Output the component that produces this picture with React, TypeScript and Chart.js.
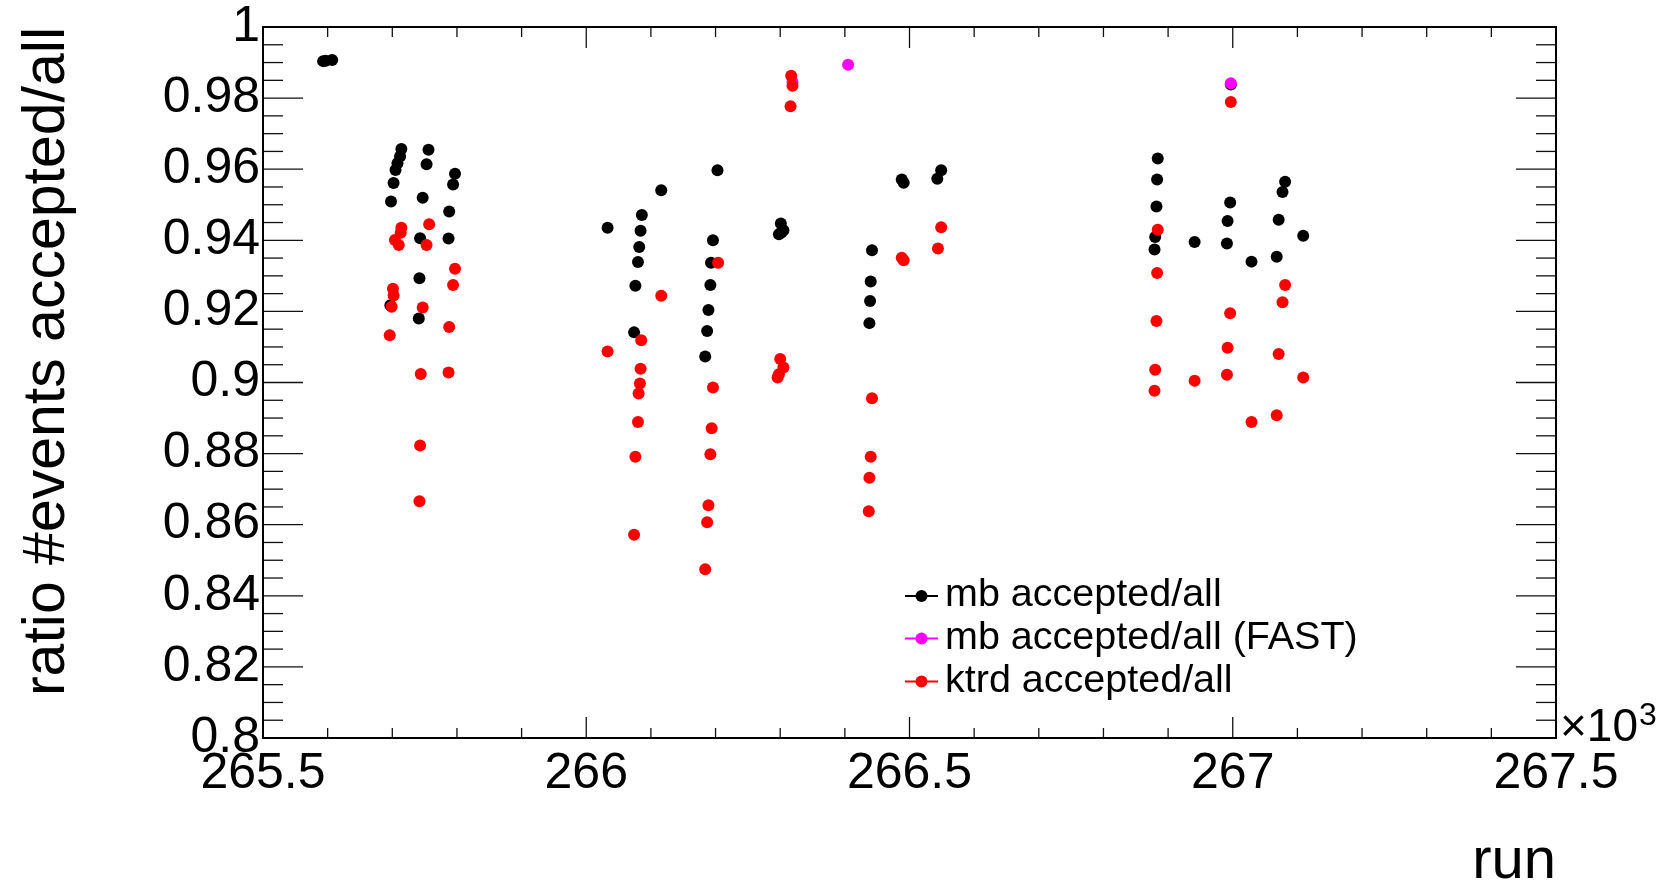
import React, { useEffect, useRef } from "react";
import { Chart, registerables } from "chart.js";

Chart.register(...registerables);

// ---- data (run number, ratio of accepted events) ----
const mbRuns = [
  265593, 265597, 265607,
  265714, 265712, 265708, 265705, 265702, 265698, 265697,
  265756, 265753, 265747, 265743, 265742, 265741,
  265797, 265794, 265788, 265787,
  266033,
  266086, 266084, 266082, 266080, 266076, 266074,
  266116,
  266203, 266196, 266193, 266192, 266189, 266187, 266184,
  266301, 266305, 266298, 266302,
  266442, 266440, 266439, 266438,
  266488, 266491,
  266549, 266543,
  266884, 266883, 266882, 266880, 266879,
  266941,
  266997, 266996, 266992, 266991,
  267029,
  267081, 267077, 267071, 267068,
  267109,
];
const mbRatio = [
  0.9904, 0.9905, 0.9907,
  0.9657, 0.9636, 0.9617, 0.9598, 0.9561, 0.9509, 0.9217,
  0.9655, 0.9614, 0.952, 0.9406, 0.9293, 0.918,
  0.9587, 0.9557, 0.9481, 0.9405,
  0.9435,
  0.9471, 0.9427, 0.9381, 0.9339, 0.9272, 0.9141,
  0.9541,
  0.9597, 0.94, 0.9337, 0.9274, 0.9204, 0.9145, 0.9073,
  0.9447, 0.9428, 0.9417, 0.9422,
  0.9372, 0.9284, 0.9229, 0.9167,
  0.9571, 0.9562,
  0.9597, 0.9573,
  0.963, 0.9571, 0.9495, 0.9409, 0.9374,
  0.9395,
  0.9838, 0.9506, 0.9454, 0.9391,
  0.934,
  0.9565, 0.9536, 0.9458, 0.9354,
  0.9413,
];

const fastRuns = [266319, 266405, 266997];
const fastRatio = [0.9845, 0.9894, 0.9842];

const ktrdRuns = [
  265714, 265713, 265704, 265710, 265701, 265702, 265699, 265696,
  265757, 265753, 265747, 265744, 265743, 265742,
  265797, 265794, 265788, 265787,
  266033,
  266085, 266084, 266083, 266081, 266080, 266076, 266074,
  266116,
  266204, 266196, 266194, 266192, 266189, 266187, 266184,
  266317, 266319, 266316, 266300, 266305, 266298, 266296,
  266442, 266440, 266438, 266437,
  266488, 266491,
  266549, 266544,
  266884, 266883, 266882, 266880, 266879,
  266941,
  266997, 266996, 266992, 266991,
  267029,
  267081, 267077, 267071, 267068,
  267109,
];
const ktrdRatio = [
  0.9435, 0.9421, 0.9401, 0.9387, 0.9264, 0.9245, 0.9213, 0.9133,
  0.9445, 0.9387, 0.9211, 0.9024, 0.8823, 0.8666,
  0.932, 0.9274, 0.9156, 0.9028,
  0.9087,
  0.9119, 0.9039, 0.8997, 0.8969, 0.8889, 0.8791, 0.8572,
  0.9244,
  0.9337, 0.8986, 0.8871, 0.8798, 0.8655, 0.8607, 0.8475,
  0.9863, 0.9835, 0.9777, 0.9066, 0.9042, 0.9023, 0.9014,
  0.8956, 0.8791, 0.8732, 0.8638,
  0.9351, 0.9344,
  0.9437, 0.9377,
  0.943, 0.9308, 0.9173, 0.9036, 0.8977,
  0.9005,
  0.9789, 0.9195, 0.9098, 0.9022,
  0.8889,
  0.9274, 0.9226, 0.908, 0.8908,
  0.9014,
];

const seriesLabels = ["mb accepted/all", "mb accepted/all (FAST)", "ktrd accepted/all"];
const seriesColors = ["#000000", "#ff00ff", "#ff0000"];

const xMin = 265500;
const xMax = 267500;
const xMajorStep = 500;
const xMinorStep = 100;
const yMin = 0.8;
const yMax = 1.0;
const yMajorStep = 0.02;
const yMinorStep = 0.005;

const yTitle = "ratio #events accepted/all";
const xTitle = "run";

const FONT = '"Liberation Sans", Arial, Helvetica, sans-serif';

function toPoints(runs: number[], vals: number[]) {
  return runs.map((r, i) => ({ x: r, y: vals[i] }));
}

const rootFramePlugin = {
  id: "rootFrame",
  beforeDatasetsDraw(chart: any) {
    const { ctx, chartArea: a, scales } = chart;
    const x = scales.x;
    const y = scales.y;
    ctx.save();
    ctx.strokeStyle = "#111";
    ctx.lineWidth = 1.3;
    const line = (x1: number, y1: number, x2: number, y2: number) => {
      ctx.beginPath();
      ctx.moveTo(x1, y1);
      ctx.lineTo(x2, y2);
      ctx.stroke();
    };
    const nx = Math.round((xMax - xMin) / xMinorStep);
    for (let i = 0; i <= nx; i++) {
      const v = xMin + i * xMinorStep;
      const px = x.getPixelForValue(v);
      const major = (i * xMinorStep) % xMajorStep === 0;
      line(px, a.bottom, px, a.bottom - (major ? 21 : 10));
      line(px, a.top, px, a.top + (major ? 21 : 10));
    }
    const ny = Math.round((yMax - yMin) / yMinorStep);
    const per = Math.round(yMajorStep / yMinorStep);
    for (let i = 0; i <= ny; i++) {
      const v = yMin + i * yMinorStep;
      const py = y.getPixelForValue(v);
      const major = i % per === 0;
      line(a.left, py, a.left + (major ? 40 : 20), py);
      line(a.right, py, a.right - (major ? 40 : 20), py);
    }
    ctx.lineWidth = 2;
    ctx.strokeStyle = "#000";
    ctx.strokeRect(a.left, a.top, a.right - a.left, a.bottom - a.top);
    ctx.restore();
  },
  afterDraw(chart: any) {
    const { ctx, chartArea: a } = chart;
    ctx.save();
    ctx.fillStyle = "#000";
    // y title
    ctx.font = `59px ${FONT}`;
    ctx.save();
    ctx.translate(64, a.top);
    ctx.rotate(-Math.PI / 2);
    ctx.textAlign = "right";
    ctx.textBaseline = "alphabetic";
    ctx.fillText(yTitle, 0, 0);
    ctx.restore();
    // x title
    ctx.font = `58px ${FONT}`;
    ctx.textAlign = "right";
    ctx.textBaseline = "alphabetic";
    ctx.fillText(xTitle, a.right, 878);
    // x10^3
    ctx.textAlign = "left";
    ctx.font = `46px ${FONT}`;
    const base = "\u00d710";
    ctx.fillText(base, a.right + 4, a.bottom + 3);
    const w = ctx.measureText(base).width;
    ctx.font = `32px ${FONT}`;
    ctx.fillText("3", a.right + 4 + w + 1, a.bottom - 13);
    // legend
    const rows = [596, 638.5, 681.5];
    chart.data.datasets.forEach((ds: any, i: number) => {
      const cy = rows[i];
      ctx.strokeStyle = ds.backgroundColor;
      ctx.lineWidth = 2;
      ctx.beginPath();
      ctx.moveTo(905, cy);
      ctx.lineTo(938, cy);
      ctx.stroke();
      ctx.fillStyle = ds.backgroundColor;
      ctx.beginPath();
      ctx.arc(921.5, cy, 6, 0, Math.PI * 2);
      ctx.fill();
      ctx.fillStyle = "#000";
      ctx.font = `39.5px ${FONT}`;
      ctx.textAlign = "left";
      ctx.textBaseline = "alphabetic";
      ctx.fillText(ds.label, 945, cy + 10);
    });
    ctx.restore();
  },
};

export default function App() {
  const canvasRef = useRef<HTMLCanvasElement | null>(null);

  useEffect(() => {
    const canvas = canvasRef.current;
    if (!canvas) return;
    const mk = (i: number, pts: any[], order: number) => ({
      label: seriesLabels[i],
      data: pts,
      backgroundColor: seriesColors[i],
      borderColor: seriesColors[i],
      pointRadius: 6,
      pointHoverRadius: 6,
      pointBorderWidth: 0,
      showLine: false,
      order,
    });
    const chart = new Chart(canvas, {
      type: "scatter",
      data: {
        datasets: [
          mk(0, toPoints(mbRuns, mbRatio), 2),
          mk(1, toPoints(fastRuns, fastRatio), 1),
          mk(2, toPoints(ktrdRuns, ktrdRatio), 0),
        ],
      },
      options: {
        responsive: false,
        animation: false,
        events: [],
        layout: { padding: { top: 27, right: 109, left: 0, bottom: 0 } },
        plugins: {
          legend: { display: false },
          tooltip: { enabled: false },
        },
        scales: {
          x: {
            type: "linear",
            min: xMin,
            max: xMax,
            grid: { display: false, drawTicks: false },
            border: { display: false },
            ticks: {
              stepSize: xMajorStep,
              autoSkip: false,
              maxRotation: 0,
              minRotation: 0,
              padding: 6,
              color: "#000",
              font: { family: FONT, size: 50 },
              callback: (v: any) => String(Math.round(Number(v) / 100) / 10),
            },
            afterFit: (s: any) => {
              s.height = 144;
              s.paddingLeft = 0;
              s.paddingRight = 0;
            },
          },
          y: {
            type: "linear",
            min: yMin,
            max: yMax,
            grid: { display: false, drawTicks: false },
            border: { display: false },
            ticks: {
              stepSize: yMajorStep,
              autoSkip: false,
              padding: 3,
              color: "#000",
              font: { family: FONT, size: 50 },
              callback: (v: any) => String(Math.round(Number(v) * 100) / 100),
            },
            afterFit: (s: any) => {
              s.width = 263;
              s.paddingTop = 0;
              s.paddingBottom = 0;
            },
          },
        },
      },
      plugins: [rootFramePlugin],
    } as any);
    return () => chart.destroy();
  }, []);

  return (
    <div style={{ position: "absolute", left: 0, top: 0, width: 1665, height: 882, background: "#fff" }}>
      <canvas ref={canvasRef} width={1665} height={882} style={{ display: "block" }} />
    </div>
  );
}
